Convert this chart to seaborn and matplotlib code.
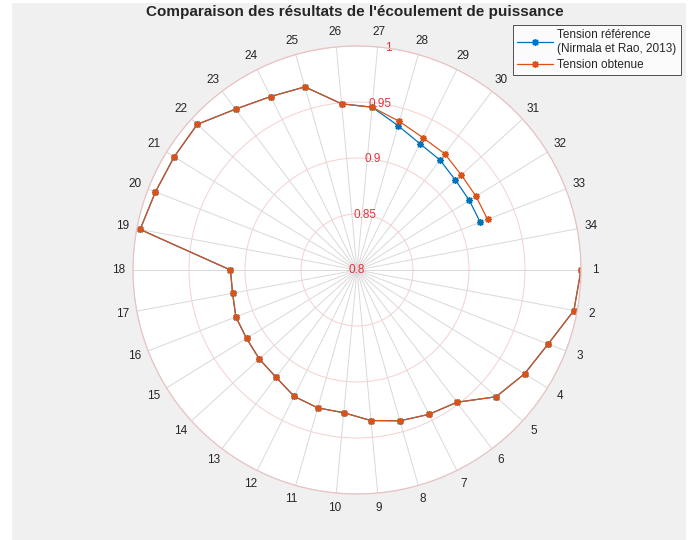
import numpy as np
import pandas as pd
import seaborn as sns
import matplotlib
matplotlib.use("Agg")
import matplotlib.pyplot as plt
from matplotlib.patches import Rectangle

# données (33 noeuds, 34 graduations)
noeuds = list(range(1, 34))
tension_ref = [1.000, 0.997, 0.983, 0.976, 0.968, 0.948, 0.944, 0.940, 0.935, 0.928,
               0.928, 0.926, 0.920, 0.918, 0.916, 0.916, 0.913, 0.913, 0.997, 0.993,
               0.992, 0.993, 0.980, 0.973, 0.970, 0.949, 0.946, 0.934, 0.926, 0.923,
               0.919, 0.918, 0.918]
tension_obt = [1.000, 0.997, 0.983, 0.976, 0.968, 0.948, 0.944, 0.940, 0.935, 0.928,
               0.928, 0.926, 0.920, 0.918, 0.916, 0.916, 0.913, 0.913, 0.997, 0.993,
               0.992, 0.993, 0.980, 0.973, 0.970, 0.949, 0.946, 0.938, 0.932, 0.930,
               0.926, 0.925, 0.925]
etiquettes_theta = [str(i) for i in range(1, 35)]
r_ticks = [0.8, 0.85, 0.9, 0.95, 1.0]
r_labels = ["0.8", "0.85", "0.9", "0.95", "1"]

n_pos = len(etiquettes_theta)
df = pd.DataFrame({
    "theta": 2 * np.pi * (np.array(noeuds) - 1) / n_pos,
    "ref": tension_ref,
    "obt": tension_obt,
})

sns.set_style("white")
plt.rcParams["font.family"] = ["Liberation Sans", "DejaVu Sans"]

fig = plt.figure(figsize=(6.91, 5.40), dpi=100, facecolor="white")
# fond gris façon MATLAB
fig.patches.append(Rectangle((12 / 691, 0), 674 / 691, 537 / 540,
                             transform=fig.transFigure, facecolor="#f0f0f0",
                             edgecolor="none", zorder=-10))

ax = fig.add_axes([133 / 691, 46 / 540, 448 / 691, 448 / 540], projection="polar")
ax.set_facecolor("white")
ax.set_theta_zero_location("E")
ax.set_theta_direction(-1)

sns.lineplot(data=df, x="theta", y="ref", ax=ax, color="#0072BD", lw=0.9,
             marker=(8, 2, 0), markersize=5, markeredgewidth=1.0,
             markeredgecolor="#0072BD", label="Tension référence\n(Nirmala et Rao, 2013)")
sns.lineplot(data=df, x="theta", y="obt", ax=ax, color="#D95319", lw=0.9,
             marker=(8, 2, 0), markersize=5, markeredgewidth=1.0,
             markeredgecolor="#D95319", label="Tension obtenue")

ax.set_ylim(0.8, 1.0)
ax.set_yticks(r_ticks)
ax.set_yticklabels(r_labels, color="#e8313a", fontsize=8.5)
ax.set_rlabel_position(-82)
for t in ax.get_yticklabels():
    t.set_ha("center")
    t.set_va("center")

ax.set_xticks(np.arange(n_pos) * 2 * np.pi / n_pos)
ax.set_xticklabels(etiquettes_theta, fontsize=8.5, color="#262626")
ax.tick_params(axis="x", pad=0)
ax.set_xlabel("")
ax.set_ylabel("")

ax.xaxis.grid(True, color="#d9d9d9", lw=0.7)
ax.yaxis.grid(True, color="#f5d0d0", lw=0.7)
ax.spines["polar"].set_color("#e6c4c4")
ax.spines["polar"].set_linewidth(0.9)

leg = ax.legend(loc="upper left", bbox_to_anchor=(513 / 691, 1 - 25 / 540),
                bbox_transform=fig.transFigure, fontsize=8.5, frameon=True,
                fancybox=False, edgecolor="#262626", borderpad=0.35,
                handlelength=3.0, labelspacing=0.35, borderaxespad=0,
                handletextpad=0.4)
leg.get_frame().set_linewidth(0.7)

fig.text(355 / 691, 1 - 12 / 540,
         "Comparaison des résultats de l'écoulement de puissance",
         ha="center", va="center", fontsize=11, fontweight="bold")

fig.savefig("out.png", dpi=100, facecolor=fig.get_facecolor())
